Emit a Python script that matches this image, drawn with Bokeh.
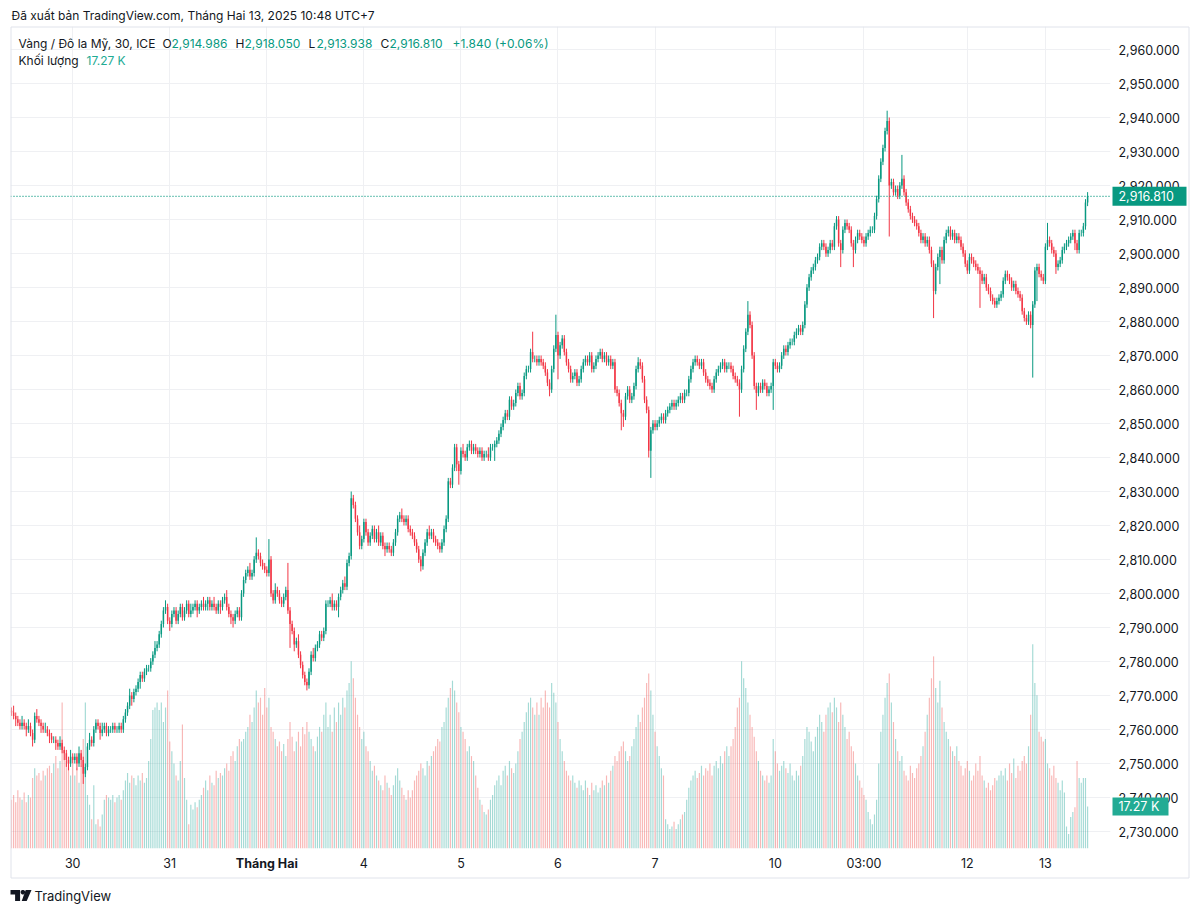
import math
from bokeh.plotting import figure
from bokeh.models import (Range1d, FixedTicker, NumeralTickFormatter, Label, Span,
                          ColumnDataSource)
from bokeh.core.properties import value
from bokeh.embed import file_html
from bokeh.resources import INLINE

# ---------------- data ----------------
first_open = 2765.5
closes = [
    2765, 2764, 2763, 2762, 2761, 2762, 2761, 2760, 2761, 2759,
    2757, 2764, 2763, 2762, 2761, 2760, 2760, 2759, 2758, 2757,
    2757, 2756, 2755, 2756, 2754, 2753, 2751, 2750, 2752, 2751,
    2752, 2750, 2753, 2751, 2747, 2749, 2755, 2757, 2756, 2760,
    2762, 2761, 2759, 2760, 2761, 2759, 2760, 2760, 2761, 2760,
    2760, 2761, 2760, 2763, 2765, 2767, 2770, 2769, 2771, 2772,
    2774, 2776, 2775, 2777, 2778, 2778, 2780, 2782, 2784, 2785,
    2788, 2791, 2795, 2796, 2792, 2791, 2794, 2795, 2792, 2794,
    2796, 2793, 2795, 2797, 2794, 2795, 2796, 2797, 2795, 2796,
    2797, 2796, 2797, 2798, 2796, 2797, 2796, 2795, 2797, 2796,
    2798, 2799, 2796, 2794, 2793, 2792, 2794, 2795, 2793, 2800,
    2804, 2806, 2807, 2805, 2806, 2810, 2812, 2811, 2809, 2808,
    2807, 2806, 2810, 2800, 2798, 2801, 2800, 2798, 2797, 2799,
    2801, 2795, 2791, 2789, 2785, 2786, 2782, 2779, 2776, 2774,
    2773, 2777, 2782, 2781, 2784, 2785, 2788, 2787, 2789, 2797,
    2797, 2798, 2796, 2797, 2796, 2799, 2801, 2803, 2802, 2809,
    2811, 2828, 2826, 2822, 2818, 2814, 2816, 2821, 2818, 2815,
    2817, 2819, 2816, 2818, 2815, 2817, 2814, 2813, 2814, 2813,
    2812, 2815, 2818, 2822, 2823, 2822, 2821, 2822, 2819, 2818,
    2817, 2815, 2813, 2810, 2808, 2812, 2815, 2818, 2817, 2818,
    2816, 2815, 2814, 2813, 2815, 2819, 2822, 2833, 2832, 2837,
    2843, 2838, 2836, 2842, 2841, 2840, 2843, 2844, 2842, 2843,
    2842, 2841, 2842, 2840, 2841, 2841, 2840, 2843, 2843, 2844,
    2845, 2847, 2849, 2851, 2853, 2852, 2857, 2855, 2856, 2859,
    2861, 2858, 2859, 2864, 2866, 2866, 2871, 2869, 2869, 2868,
    2869, 2868, 2867, 2865, 2862, 2860, 2866, 2872, 2876, 2870,
    2873, 2875, 2871, 2868, 2866, 2863, 2864, 2865, 2862, 2863,
    2866, 2868, 2869, 2868, 2870, 2866, 2867, 2869, 2870, 2871,
    2869, 2870, 2868, 2869, 2867, 2868, 2860, 2859, 2856, 2853,
    2852, 2858, 2860, 2857, 2858, 2861, 2866, 2868, 2867, 2863,
    2857, 2854, 2842, 2848, 2850, 2849, 2850, 2851, 2852, 2851,
    2853, 2854, 2855, 2856, 2855, 2856, 2857, 2858, 2857, 2859,
    2859, 2863, 2866, 2868, 2869, 2868, 2867, 2868, 2865, 2863,
    2862, 2861, 2860, 2863, 2865, 2866, 2867, 2868, 2866, 2867,
    2867, 2866, 2864, 2863, 2862, 2860, 2866, 2872, 2877, 2882,
    2879, 2870, 2861, 2859, 2861, 2860, 2862, 2861, 2859, 2860,
    2861, 2868, 2867, 2866, 2867, 2870, 2872, 2871, 2873, 2874,
    2874, 2876, 2877, 2878, 2877, 2879, 2885, 2890, 2893, 2895,
    2896, 2898, 2899, 2902, 2903, 2902, 2900, 2901, 2903, 2902,
    2908, 2910, 2903, 2901, 2907, 2909, 2908, 2907, 2903, 2901,
    2904, 2906, 2905, 2904, 2903, 2905, 2906, 2907, 2907, 2911,
    2916, 2922, 2927, 2931, 2936, 2939, 2920, 2921, 2918, 2919,
    2917, 2920, 2922, 2918, 2915, 2913, 2911, 2910, 2909, 2908,
    2906, 2904, 2905, 2903, 2904, 2901, 2897, 2889, 2896, 2899,
    2901, 2898, 2904, 2906, 2907, 2905, 2906, 2904, 2905, 2904,
    2902, 2900, 2897, 2895, 2899, 2898, 2897, 2896, 2895, 2894,
    2892, 2893, 2890, 2889, 2887, 2886, 2885, 2886, 2887, 2888,
    2892, 2894, 2893, 2892, 2890, 2891, 2889, 2888, 2887, 2883,
    2881, 2880, 2882, 2879, 2885, 2895, 2896, 2894, 2893, 2892,
    2902, 2904, 2903, 2901, 2900, 2896, 2897, 2898, 2901, 2902,
    2903, 2904, 2905, 2906, 2903, 2901, 2906, 2906, 2908, 2914.986,
    2916.81,
]
upper_wicks = [
    1, 2, 1, 1, 1, 2, 1, 1, 2, 1,
    1, 1, 2, 1, 1, 1, 2, 1, 1, 1,
    1, 1, 1, 2, 1, 1, 1, 1, 2, 1,
    1, 1, 2, 1, 1, 1, 1, 2, 1, 1,
    1, 1, 1, 2, 1, 1, 1, 1, 1, 1,
    1, 1, 1, 1, 1, 1, 2, 1, 1, 1,
    1, 1, 1, 1, 1, 1, 1, 1, 2, 1,
    1, 1, 1, 2, 1, 1, 1, 1, 1, 1,
    1, 1, 1, 1, 1, 2, 1, 1, 1, 1,
    1, 2, 1, 1, 1, 1, 2, 1, 1, 1,
    1, 1, 2, 1, 1, 1, 1, 1, 1, 1,
    1, 1, 1, 2, 1, 1, 4.5, 1, 1, 1,
    1, 1, 6, 1, 1, 2, 1, 1, 1, 1,
    1, 8, 1, 1, 1, 1, 2, 1, 1, 1,
    1, 1, 1, 2, 1, 1, 1, 1, 1, 1,
    1, 1, 2, 1, 1, 1, 1, 1, 2, 1,
    1, 2, 1, 1, 1, 2, 1, 1, 1, 1,
    1, 1, 1, 1, 2, 1, 1, 1, 1, 1,
    1, 1, 1, 1, 1, 2, 1, 1, 1, 1,
    1, 1, 1, 1, 1, 1, 1, 1, 2, 1,
    1, 1, 1, 1, 1, 1, 1, 1, 1, 1,
    1, 1, 1, 1, 2, 1, 1, 1, 1, 1,
    1, 1, 1, 1, 1, 1, 2, 1, 1, 1,
    1, 1, 1, 1, 1, 1, 1, 1, 1, 1,
    1, 1, 1, 1, 1, 1, 1, 6, 1, 1,
    1, 1, 1, 1, 1, 1, 1, 1, 6, 1,
    1, 1, 1, 1, 1, 1, 1, 1, 1, 1,
    1, 1, 1, 1, 1, 1, 1, 1, 1, 1,
    1, 1, 1, 1, 1, 1, 1, 1, 1, 1,
    1, 1, 1, 1, 1, 1, 1, 1.5, 1, 1,
    1, 1, 1, 1, 1, 1, 1, 1, 1, 1,
    1, 1, 1, 1, 1, 1, 1, 1, 1, 1,
    1, 1, 1, 1, 1, 1, 1, 1, 1, 1,
    1, 1, 1, 1, 1, 1, 1, 1, 1, 1,
    1, 1, 1, 1, 1, 1, 1, 1, 1, 4,
    1, 1, 1, 1, 1, 1, 1, 1, 1, 1,
    1, 1, 1, 1, 1, 1, 1, 1, 1, 1,
    1, 1, 1, 1, 1, 1, 1, 1, 1, 1,
    1, 1, 1, 1, 1, 1, 1, 1, 1, 1,
    1, 1, 1, 1, 1, 1, 1, 1, 1, 1,
    1, 1, 1, 1, 1, 1, 1, 1, 1, 1,
    1, 1, 1, 1, 1, 3, 1, 1, 1, 1,
    1, 1, 7, 1, 1, 1, 1, 1, 1, 1,
    1, 1, 1, 1, 1, 1, 1, 1, 1, 1,
    1, 1, 1, 1, 1, 1, 1, 1, 1, 1,
    1, 1, 1, 1, 1, 1, 1, 1, 1, 1,
    1, 1, 1, 1, 1, 1, 1, 1, 1, 1,
    1, 1, 1, 1, 1, 1, 1, 1, 1, 1,
    1, 1, 1, 1, 1, 1, 1, 1, 1, 1,
    1, 5, 1, 1, 1, 1, 1, 1, 1, 1,
    1, 1, 1, 1, 1, 1, 1, 1, 1, 1,
    1.24,
]
lower_wicks = [
    1, 1, 2, 1, 1, 1, 1, 2, 1, 1,
    2, 1, 1, 1, 2, 1, 1, 1, 2, 1,
    1, 2, 1, 1, 1, 2, 2, 2, 1, 1,
    1, 2, 1, 2, 3, 1, 1, 1, 1, 1,
    1, 1, 2, 1, 1, 1, 1, 1, 1, 1,
    1, 1, 1, 1, 1, 1, 1, 2, 1, 1,
    1, 2, 1, 1, 1, 1, 1, 1, 1, 1,
    1, 1, 1, 1, 1, 2, 1, 1, 1, 1,
    1, 1, 1, 1, 1, 1, 1, 1, 2, 1,
    1, 1, 1, 2, 1, 1, 1, 1, 1, 2,
    1, 1, 1, 1, 2, 2, 1, 1, 1, 1,
    1, 1, 1, 1, 1, 1, 1, 1, 1, 1,
    1, 1, 1, 1, 1, 1, 1, 1, 1, 1,
    1, 1, 7, 1, 2, 1, 1, 1, 1, 1,
    1.5, 1, 1, 1, 1, 1, 1, 1, 1, 1,
    1, 1, 1, 1, 1, 3, 1, 1, 1, 1,
    1, 1, 1, 1, 1, 1, 1, 1, 1, 1,
    1, 1, 1, 1, 1, 1, 1, 2, 1, 1,
    1, 1, 1, 1, 1, 1, 1, 1, 1, 1,
    1, 1, 1, 1, 1.5, 1, 1, 1, 1, 1,
    1, 1, 1, 1, 1, 1, 1, 1, 1, 1,
    1, 2, 4, 1, 1, 1, 1, 1, 1, 1,
    1, 1, 1, 1, 1, 1, 1, 1, 1, 4,
    1, 1, 1, 1, 1, 1, 1, 1, 1, 1,
    1, 1, 1, 1, 1, 1, 1, 1, 1, 1,
    1, 1, 1, 1, 1, 2, 1, 1, 1, 7,
    1, 1, 1, 1, 1, 1, 1, 1, 1, 1,
    1, 1, 1, 1, 1, 1, 1, 1, 1, 1,
    1, 1, 1, 1, 1, 1, 1, 1, 1, 5,
    3, 1, 1, 1, 1, 1, 1, 1, 1, 1,
    1, 1, 2, 8, 1, 1, 1, 1, 1, 1,
    1, 1, 1, 1, 1, 1, 1, 1, 1, 1,
    1, 1, 1, 1, 1, 1, 1, 1, 1, 1,
    1, 1, 1, 1, 1, 1, 1, 1, 1, 1,
    1, 1, 1, 1, 1, 8, 1, 1, 1, 1,
    1, 1, 1, 5, 1, 1, 1, 1, 1, 1,
    1, 7, 1, 1, 1, 1, 1, 1, 1, 1,
    1, 1, 1, 1, 1, 1, 1, 1, 1, 1,
    1, 1, 1, 1, 1, 1, 1, 1, 1, 1,
    1, 1, 1, 5, 1, 1, 1, 1, 1, 5,
    1, 1, 1, 1, 1, 1, 1, 1, 1, 1,
    1, 1, 1, 1, 1, 1, 15, 1, 1, 1,
    1, 1, 1, 1, 1, 1, 1, 1, 1, 1,
    1, 1, 1, 1, 1, 1, 1, 8, 1, 1,
    8, 1, 1, 1, 1, 1, 1, 1, 1, 1,
    1, 1, 1, 1, 1, 1, 1, 1, 1, 10,
    1, 1, 1, 1, 1, 1, 1, 1, 1, 1,
    1, 1, 1, 1, 1, 1, 1, 1, 1, 1,
    1, 1, 1, 1, 15.5, 1, 9, 1, 1, 1,
    1, 1, 1, 1, 1, 2, 1, 1, 1, 1,
    1, 1, 1, 1, 2, 1, 1, 1, 1, 1,
    1.048,
]
volumes_k = [
    20, 22, 19, 24, 21, 20, 23, 19, 22, 21,
    29, 33, 30, 31, 28, 32, 30, 33, 34, 31,
    35, 38, 33, 36, 60, 40, 36, 33, 30, 35,
    30, 33, 27, 34, 45, 60, 22, 18, 12, 26,
    10, 12, 9, 14, 20, 22, 21, 20, 22, 19,
    21, 22, 20, 24, 28, 31, 27, 30, 29, 26,
    30, 28, 31, 27, 29, 36, 45, 57, 58, 60,
    57, 60, 52, 58, 65, 44, 40, 35, 30, 28,
    36, 51, 29, 20, 10, 18, 16, 19, 17, 20,
    22, 25, 28, 24, 30, 27, 26, 32, 29, 31,
    30, 33, 35, 32, 38, 40, 36, 42, 45, 44,
    45, 48, 50, 55, 52, 58, 65, 60, 62, 55,
    66, 58, 62, 50, 48, 45, 42, 44, 40, 43,
    38, 45, 52, 46, 40, 44, 48, 42, 50, 47,
    52, 48, 45, 42, 40, 46, 50, 48, 55, 60,
    50, 55, 48, 58, 52, 60, 55, 62, 58, 65,
    68, 77, 70, 62, 55, 50, 45, 48, 42, 40,
    36, 32, 34, 30, 28, 26, 24, 30, 27, 25,
    22, 26, 30, 33, 28, 25, 22, 20, 24, 21,
    24, 28, 30, 32, 35, 33, 30, 36, 34, 38,
    40, 42, 45, 44, 50, 52, 58, 62, 66, 69,
    65, 60, 56, 50, 48, 45, 40, 42, 38, 36,
    30, 25, 20, 18, 15, 14, 16, 20, 22, 26,
    28, 30, 26, 32, 34, 30, 36, 33, 31, 35,
    40, 45, 48, 52, 56, 60, 62, 58, 55, 60,
    55, 62, 58, 65, 60, 58, 68, 64, 60, 52,
    45, 40, 36, 32, 30, 28, 30, 27, 25, 28,
    26, 24, 28, 25, 22, 27, 24, 26, 23, 25,
    28, 26, 30, 27, 32, 34, 38, 36, 40, 42,
    44, 40, 36, 38, 42, 45, 50, 55, 52, 58,
    62, 68, 72, 65, 55, 48, 42, 38, 33, 30,
    12, 10, 8, 9, 11, 8, 10, 12, 14, 15,
    20, 25, 28, 30, 32, 29, 31, 34, 30, 33,
    32, 35, 30, 34, 36, 33, 38, 35, 40, 42,
    38, 42, 45, 50, 58, 62, 77, 70, 66, 60,
    55, 50, 46, 40, 36, 32, 30, 28, 30, 27,
    30, 45, 40, 35, 32, 34, 36, 33, 31, 35,
    30, 28, 32, 30, 34, 38, 45, 50, 48, 44,
    40, 46, 50, 55, 52, 48, 55, 58, 60, 56,
    62, 58, 52, 60, 55, 50, 45, 48, 42, 40,
    35, 30, 28, 25, 22, 20, 15, 12, 10, 14,
    20, 35, 48, 55, 62, 68, 72, 60, 52, 45,
    40, 36, 38, 32, 30, 28, 34, 31, 29, 33,
    35, 38, 42, 48, 55, 62, 70, 79, 66, 60,
    69, 58, 52, 48, 45, 42, 40, 38, 42, 36,
    34, 30, 33, 36, 32, 28, 30, 35, 32, 38,
    30, 28, 25, 27, 24, 26, 29, 28, 30, 32,
    30, 33, 28, 35, 31, 37, 29, 34, 32, 36,
    38, 35, 42, 55, 84, 68, 63, 48, 46, 44,
    45, 35, 33, 30, 34, 29, 27, 24, 28, 23,
    9, 6, 13, 15, 17, 36, 29, 27, 29, 29,
    17.27,
]
price_ticks = [2730, 2740, 2750, 2760, 2770, 2780, 2790, 2800, 2810, 2820, 2830, 2840,
               2850, 2860, 2870, 2880, 2890, 2900, 2910, 2920, 2930, 2940, 2950, 2960]
time_tick_bars = [29, 75, 121, 167, 213, 259, 305, 362, 404, 453, 490]
time_tick_labels = ["30", "31", "Tháng Hai", "4", "5", "6", "7", "10", "03:00", "12", "13"]
bold_time_labels = ["Tháng Hai"]

title_text = "Đã xuất bản TradingView.com, Tháng Hai 13, 2025 10:48 UTC+7"
symbol_text = "Vàng / Đô la Mỹ, 30, ICE"
volume_name = "Khối lượng"
brand_text = "TradingView"
change_abs = 1.840
change_pct = 0.06

# ---------------- derived candle geometry ----------------
n = len(closes)
opens = [first_open] + closes[:-1]
highs = [max(o, c) + u for o, c, u in zip(opens, closes, upper_wicks)]
lows = [min(o, c) - d for o, c, d in zip(opens, closes, lower_wicks)]
idx = list(range(n))
UP, DOWN = "#089981", "#F23645"
VUP, VDOWN = "#26A69A", "#EF5350"
is_up = [c >= o for o, c in zip(opens, closes)]
colors = [UP if u else DOWN for u in is_up]
vcolors = [VUP if u else VDOWN for u in is_up]

src = ColumnDataSource(dict(x=idx, top=[max(o, c) for o, c in zip(opens, closes)],
                            bottom=[min(o, c) for o, c in zip(opens, closes)],
                            high=highs, low=lows, color=colors,
                            vol=volumes_k, vcolor=vcolors))

# ---------------- page geometry (pixels of the page) ----------------
BAR0_PX, BAR_STEP_PX = 11.0, 2.11
PRICE_REF, PRICE_REF_PY, PX_PER_PRICE = 2960.0, 49.0, 3.4
VOL_PX_PER_K = 2.432
FRAME_L, FRAME_R, FRAME_T, FRAME_B = 10, 1110, 26, 848
W, H = 1200, 912


def xd(px):
    return (px - BAR0_PX) / BAR_STEP_PX


def yd(py):
    return PRICE_REF - (py - PRICE_REF_PY) / PX_PER_PRICE


p = figure(width=W, height=H, output_backend="svg", toolbar_location=None,
           x_range=Range1d(xd(FRAME_L), xd(FRAME_R)),
           y_range=Range1d(yd(FRAME_B), yd(FRAME_T)),
           y_axis_location="right",
           min_border_left=FRAME_L, min_border_top=FRAME_T,
           min_border_right=W - FRAME_R, min_border_bottom=H - FRAME_B)
p.extra_y_ranges = {"vol": Range1d(0, (FRAME_B - FRAME_T) / VOL_PX_PER_K)}
p.outline_line_color = None
p.background_fill_color = "white"
p.border_fill_color = "white"

FONT = "Inter"
TXT = "#131722"
GRID = "#EFF0F3"
AXIS_FS = "12.5px"

# axes
p.yaxis.ticker = FixedTicker(ticks=price_ticks)
p.yaxis.formatter = NumeralTickFormatter(format="0,0.000")
p.xaxis.ticker = FixedTicker(ticks=time_tick_bars)
p.xaxis.major_label_overrides = {t: ("" if lab in bold_time_labels else lab)
                                 for t, lab in zip(time_tick_bars, time_tick_labels)}
for ax in (p.xaxis[0], p.yaxis[0]):
    ax.axis_line_color = None
    ax.major_tick_line_color = None
    ax.minor_tick_line_color = None
    ax.major_tick_out = 0
    ax.major_tick_in = 0
    ax.minor_tick_out = 0
    ax.minor_tick_in = 0
    ax.major_label_text_font = FONT
    ax.major_label_text_font_size = AXIS_FS
    ax.major_label_text_color = TXT
p.yaxis.major_label_standoff = 8
p.xaxis.major_label_standoff = 7
p.xgrid.ticker = FixedTicker(ticks=time_tick_bars)
p.ygrid.ticker = FixedTicker(ticks=price_ticks)
p.xgrid.grid_line_color = GRID
p.ygrid.grid_line_color = GRID

# volume
p.vbar(x="x", width=0.55, top="vol", bottom=0, source=src, y_range_name="vol",
       fill_color="vcolor", fill_alpha=0.42, line_color=None)
# candles
p.segment(x0="x", y0="low", x1="x", y1="high", source=src, line_color="color", line_width=1)
p.vbar(x="x", width=0.7, top="top", bottom="bottom", source=src,
       fill_color="color", line_color=None)

last_close = closes[-1]
p.add_layout(Span(location=last_close, dimension="width", line_color=UP,
                  line_dash="1 2", line_width=1.2))


def add_label(px, py, text, color=TXT, size="12px", style="normal", align="left"):
    p.add_layout(Label(x=xd(px), y=yd(py), text=text, text_color=color, text_font_size=size,
                       text_font_style=style, text_align=align, text_baseline="middle",
                       text_font=FONT))


def add_text(px, py, text, color=TXT, size="12.5px", style="normal", align="left"):
    p.text(x=[xd(px)], y=[yd(py)], text=[text],
           text_color=color, text_font=value(FONT), text_font_size=size,
           text_font_style=style, text_align=align, text_baseline="middle",
           level="overlay")


fmt = lambda v: f"{v:,.3f}"

# header line above the chart box
add_text(11, 15, title_text, size="12px")

# legend inside the chart
add_label(18, 43, symbol_text)
items = [("O", opens[-1], 162, 171), ("H", highs[-1], 235, 244),
         ("L", lows[-1], 308, 316), ("C", closes[-1], 380, 389)]
for letter, val, lx, vx in items:
    add_label(lx, 43, letter)
    add_label(vx, 43, fmt(val), color=UP)
add_label(452, 43, f"+{change_abs:.3f} (+{change_pct:.2f}%)", color=UP)
add_label(18, 60, volume_name)
add_label(86, 60, f"{volumes_k[-1]:.2f} K", color="#22AB94")

# bold month label on the time axis
for t, lab in zip(time_tick_bars, time_tick_labels):
    if lab in bold_time_labels:
        p.text(x=[t], y=[yd(863)], text=[lab], text_font=value(FONT), text_font_size=AXIS_FS,
               text_font_style="bold", text_color=TXT, text_align="center",
               text_baseline="middle", level="overlay")

# last price marker on the price scale
p.rect(x=[xd(1149)], y=[last_close], width=[74 / BAR_STEP_PX], height=[19 / PX_PER_PRICE],
       fill_color=UP, line_color=None, level="overlay")
p.text(x=[xd(1118)], y=[last_close], text=[fmt(last_close)], text_color="white",
       text_font=value(FONT), text_font_size=AXIS_FS, text_baseline="middle",
       level="overlay")
# last volume marker
p.rect(x=[xd(1140)], y=[volumes_k[-1]], width=[56 / BAR_STEP_PX], height=[18 / VOL_PX_PER_K],
       fill_color="#22AB94", line_color=None, level="overlay", y_range_name="vol")
p.text(x=[xd(1118)], y=[volumes_k[-1]], text=[f"{volumes_k[-1]:.2f} K"], text_color="white",
       text_font=value(FONT), text_font_size=AXIS_FS, text_baseline="middle",
       level="overlay", y_range_name="vol")

# outer border of the chart box
p.rect(x=[xd((10.5 + 1188.5) / 2)], y=[yd((26.5 + 877.5) / 2)],
       width=[1178 / BAR_STEP_PX], height=[851 / PX_PER_PRICE],
       fill_color=None, line_color="#E0E3EB", line_width=1, level="overlay")

# TradingView logo (drawn as filled areas)
def shape(ys, x1s, x2s):
    p.harea(y=[yd(v) for v in ys], x1=[xd(v) for v in x1s], x2=[xd(v) for v in x2s],
            fill_color=TXT, level="overlay")


shape([889.5, 894, 894, 900.5], [10, 10, 14.6, 14.6], [19.6, 19.6, 19.6, 19.6])
cx, cy, r = 22.4, 891.7, 2.3
angs = [math.radians(a) for a in range(-90, 91, 15)]
shape([cy + r * math.sin(a) for a in angs], [cx - r * math.cos(a) for a in angs],
      [cx + r * math.cos(a) for a in angs])
shape([889.5, 900.5], [25.2, 21.2], [31, 26.2])
add_text(34, 895, brand_text, size="13px")

open("out.html", "w").write(file_html(p, INLINE))
